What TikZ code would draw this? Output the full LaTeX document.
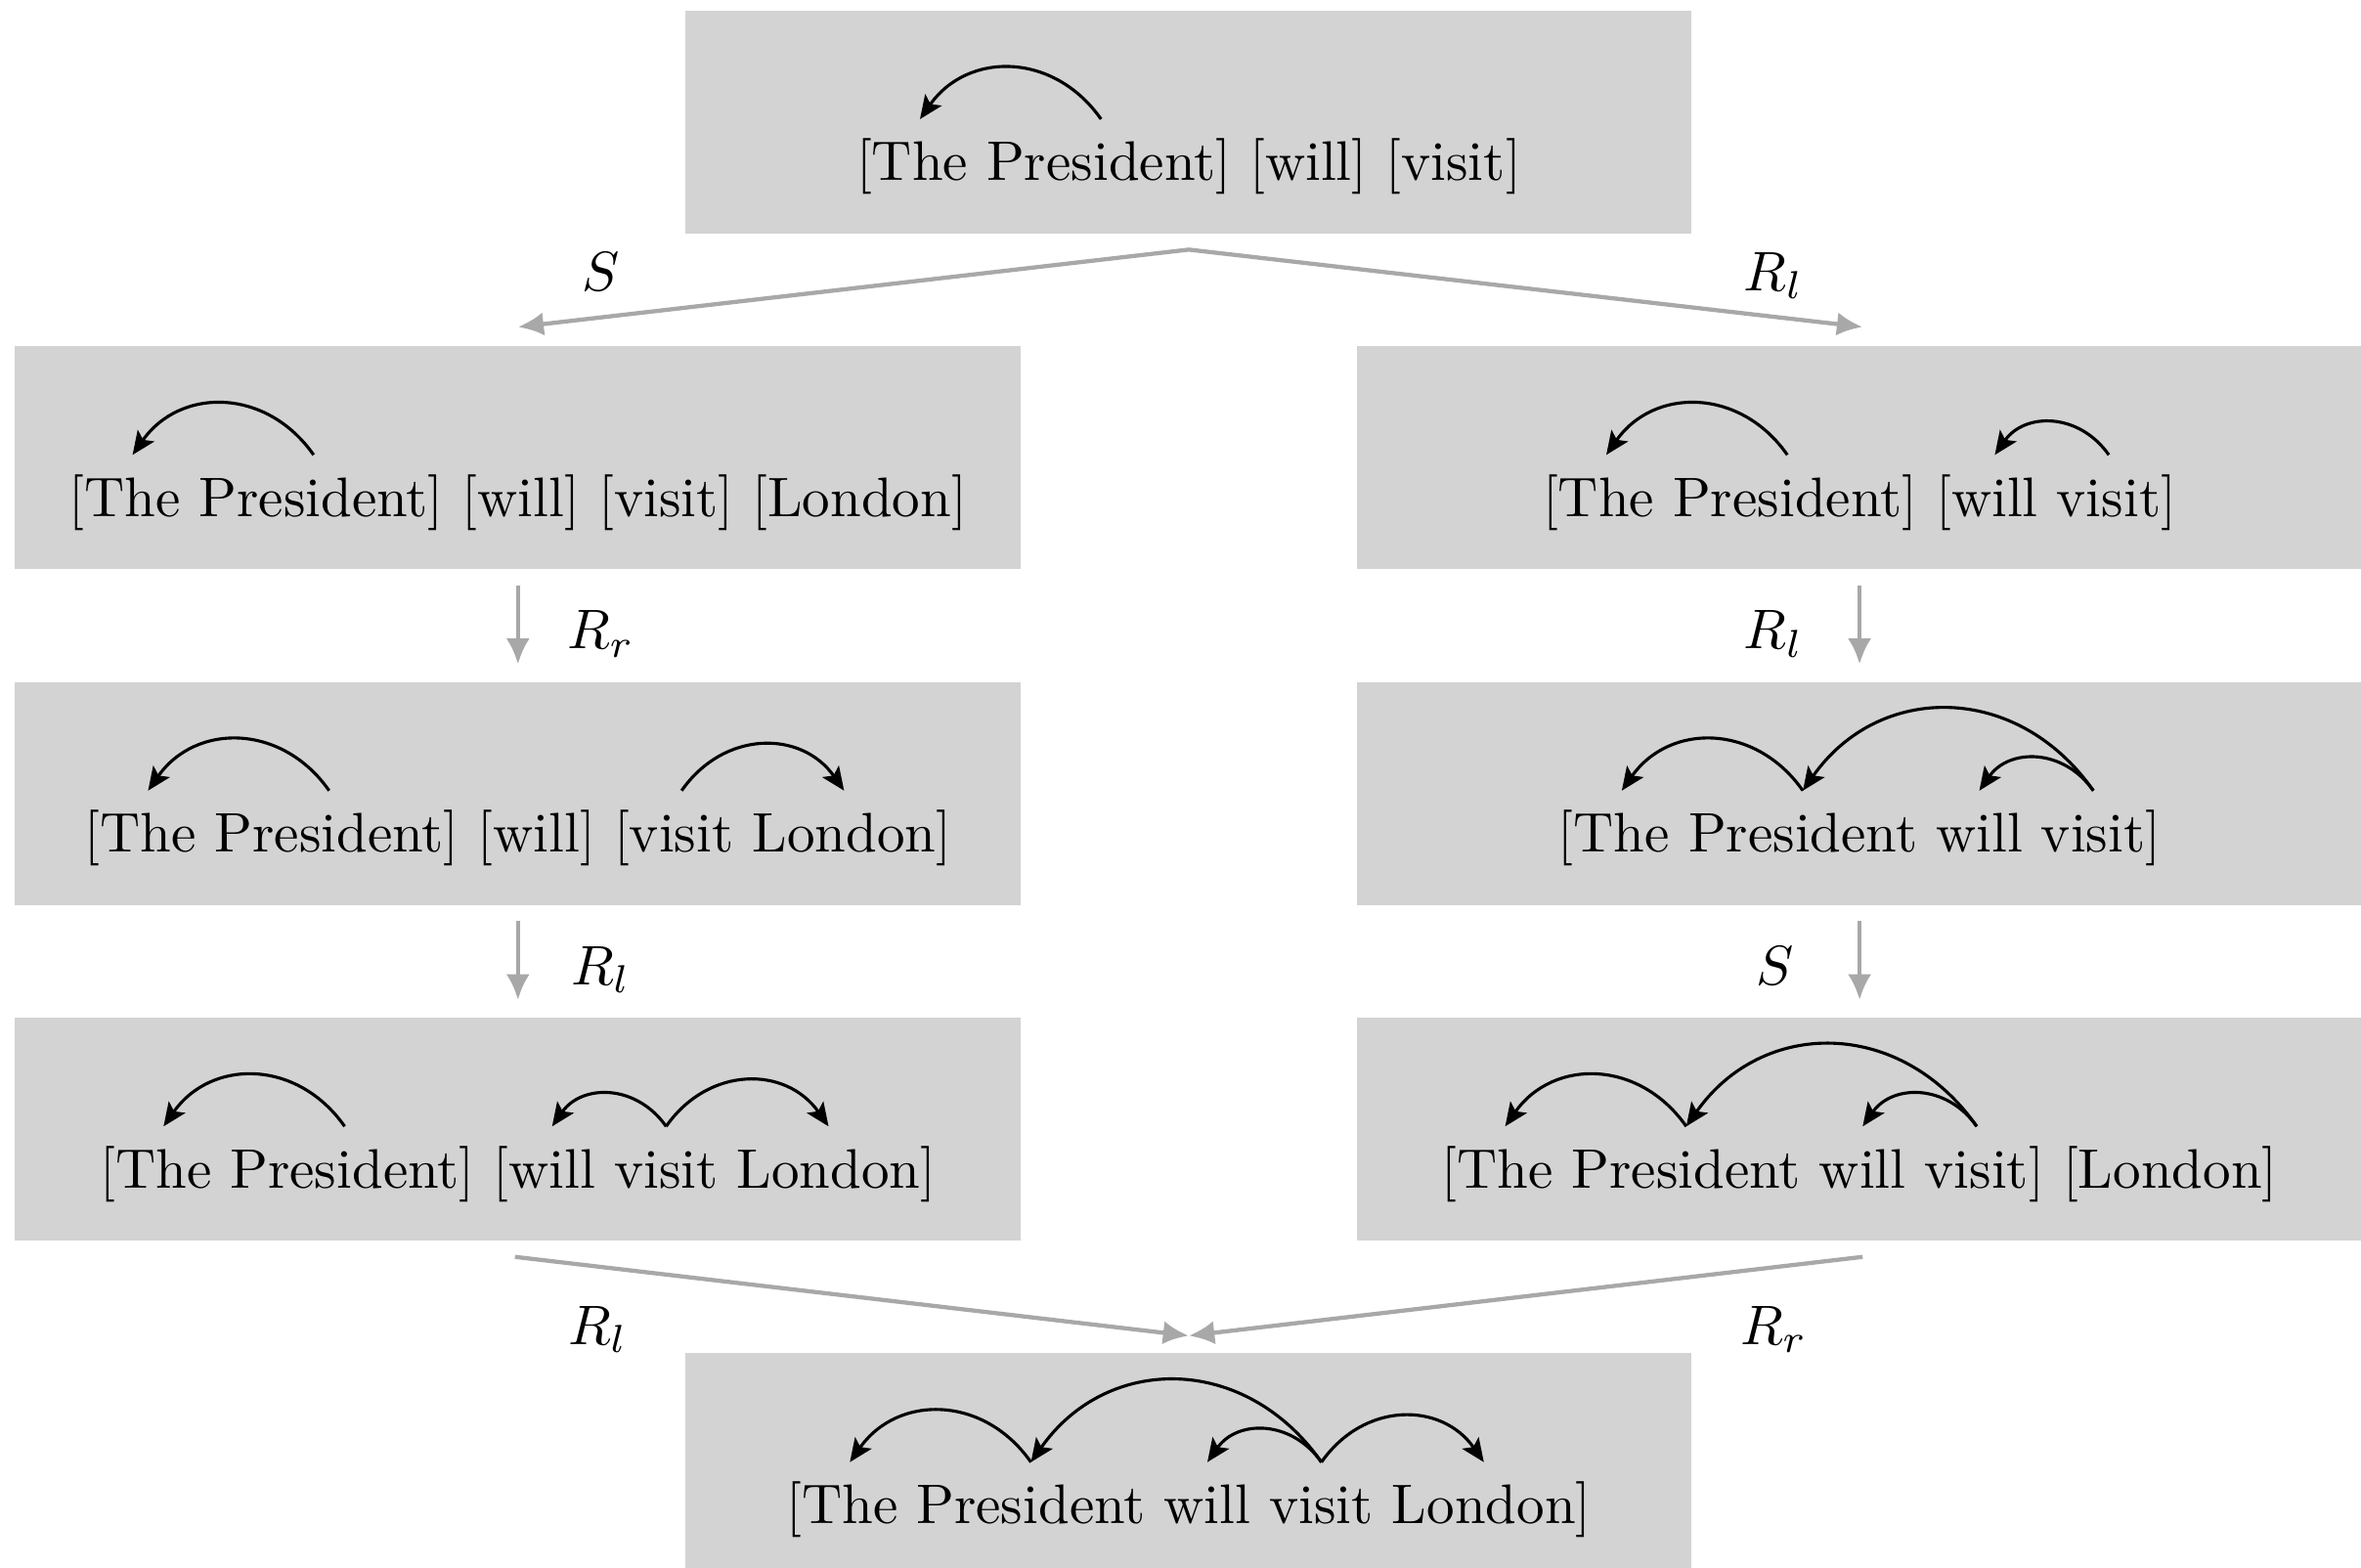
\documentclass[tikz,border=0pt]{standalone}
\usetikzlibrary{calc,arrows.meta}
\definecolor{boxgray}{RGB}{211,211,211}
\definecolor{flowgray}{RGB}{168,168,168}
\newlength\tmpw
\newlength\spw
\newlength\brw
\newlength\gapg
\newlength\wtop
\newlength\wlone
\newlength\wrone
\newlength\wltwo
\newlength\wrtwo
\newlength\wlthree
\newlength\wrthree
\newlength\wbot
% widths in the body font, taken before the picture starts
\newcommand\measure[2]{\settowidth{\tmpw}{#2}\global#1=\tmpw}
\AtBeginDocument{%
  \measure{\spw}{\ }%
  \measure{\brw}{[}%
  \global\gapg=\spw \global\advance\gapg by 2\brw
  \measure{\wtop}{[The President] [will] [visit]}%
  \measure{\wlone}{[The President] [will] [visit] [London]}%
  \measure{\wrone}{[The President] [will visit]}%
  \measure{\wltwo}{[The President] [will] [visit London]}%
  \measure{\wrtwo}{[The President will visit]}%
  \measure{\wlthree}{[The President] [will visit London]}%
  \measure{\wrthree}{[The President will visit] [London]}%
  \measure{\wbot}{[The President will visit London]}%
}
\begin{document}
\begin{tikzpicture}[x=0.2700pt,y=-0.2700pt,
  box/.style={fill=boxgray, minimum width=180.4pt, minimum height=40pt, inner sep=0pt},
  word/.style={inner sep=0pt, outer sep=0pt, anchor=base west},
  nxt/.style={word, at={(#1.base east)}, xshift=\spw},
  nxtg/.style={word, at={(#1.base east)}, xshift=\gapg},
  dep/.style={-{Stealth[length=4.2pt,width=3.6pt,inset=0.9pt]}, line width=0.55pt},
  hopl/.style={out=125, in=55, looseness=1.17},
  hopr/.style={out=55, in=125, looseness=1.17},
  flow/.style={draw=flowgray, line width=0.75pt, -{Latex[length=4.6pt,width=4.2pt]}},
  lab/.style={inner sep=0pt, anchor=base}]
\useasboundingbox (0,0) rectangle (1568,1041);

% ---------- boxes ----------
\node[box] (top) at (789.5,81) {};
\node[box] (l1) at (344,304) {};
\node[box] (r1) at (1235,304) {};
\node[box] (l2) at (344,527) {};
\node[box] (r2) at (1235,527) {};
\node[box] (l3) at (344,750) {};
\node[box] (r3) at (1235,750) {};
\node[box] (bot) at (789.5,973) {};

% ---------- top: [The President] [will] [visit] ----------
\node[word] (tA) at ($(top.center)+({-0.5*\wtop+\brw},-10.5pt)$) {\llap{[}The};
\node[nxt=tA] (tB) {President\rlap{]}};
\node[nxtg=tB] (tC) {\llap{[}will\rlap{]}};
\node[nxtg=tC] (tD) {\llap{[}visit\rlap{]}};
\draw[dep] ([yshift=11pt]tB.base) to[hopl] ([yshift=11pt]tA.base);

% ---------- l1: [The President] [will] [visit] [London] ----------
\node[word] (aA) at ($(l1.center)+({-0.5*\wlone+\brw},-10.5pt)$) {\llap{[}The};
\node[nxt=aA] (aB) {President\rlap{]}};
\node[nxtg=aB] (aC) {\llap{[}will\rlap{]}};
\node[nxtg=aC] (aD) {\llap{[}visit\rlap{]}};
\node[nxtg=aD] (aE) {\llap{[}London\rlap{]}};
\draw[dep] ([yshift=11pt]aB.base) to[hopl] ([yshift=11pt]aA.base);

% ---------- r1: [The President] [will visit] ----------
\node[word] (bA) at ($(r1.center)+({-0.5*\wrone+\brw},-10.5pt)$) {\llap{[}The};
\node[nxt=bA] (bB) {President\rlap{]}};
\node[nxtg=bB] (bC) {\llap{[}will};
\node[nxt=bC] (bD) {visit\rlap{]}};
\draw[dep] ([yshift=11pt]bB.base) to[hopl] ([yshift=11pt]bA.base);
\draw[dep] ([yshift=11pt]bD.base) to[hopl] ([yshift=11pt]bC.base);

% ---------- l2: [The President] [will] [visit London] ----------
\node[word] (cA) at ($(l2.center)+({-0.5*\wltwo+\brw},-10.5pt)$) {\llap{[}The};
\node[nxt=cA] (cB) {President\rlap{]}};
\node[nxtg=cB] (cC) {\llap{[}will\rlap{]}};
\node[nxtg=cC] (cD) {\llap{[}visit};
\node[nxt=cD] (cE) {London\rlap{]}};
\draw[dep] ([yshift=11pt]cB.base) to[hopl] ([yshift=11pt]cA.base);
\draw[dep] ([yshift=11pt]cD.base) to[hopr] ([yshift=11pt]cE.base);

% ---------- r2: [The President will visit] ----------
\node[word] (dA) at ($(r2.center)+({-0.5*\wrtwo+\brw},-10.5pt)$) {\llap{[}The};
\node[nxt=dA] (dB) {President};
\node[nxt=dB] (dC) {will};
\node[nxt=dC] (dD) {visit\rlap{]}};
\draw[dep] ([yshift=11pt]dB.base) to[hopl] ([yshift=11pt]dA.base);
\draw[dep] ([yshift=11pt]dD.base) to[hopl] ([yshift=11pt]dB.base);
\draw[dep] ([yshift=11pt]dD.base) to[hopl] ([yshift=11pt]dC.base);

% ---------- l3: [The President] [will visit London] ----------
\node[word] (eA) at ($(l3.center)+({-0.5*\wlthree+\brw},-10.5pt)$) {\llap{[}The};
\node[nxt=eA] (eB) {President\rlap{]}};
\node[nxtg=eB] (eC) {\llap{[}will};
\node[nxt=eC] (eD) {visit};
\node[nxt=eD] (eE) {London\rlap{]}};
\draw[dep] ([yshift=11pt]eB.base) to[hopl] ([yshift=11pt]eA.base);
\draw[dep] ([yshift=11pt]eD.base) to[hopl] ([yshift=11pt]eC.base);
\draw[dep] ([yshift=11pt]eD.base) to[hopr] ([yshift=11pt]eE.base);

% ---------- r3: [The President will visit] [London] ----------
\node[word] (fA) at ($(r3.center)+({-0.5*\wrthree+\brw},-10.5pt)$) {\llap{[}The};
\node[nxt=fA] (fB) {President};
\node[nxt=fB] (fC) {will};
\node[nxt=fC] (fD) {visit\rlap{]}};
\node[nxtg=fD] (fE) {\llap{[}London\rlap{]}};
\draw[dep] ([yshift=11pt]fB.base) to[hopl] ([yshift=11pt]fA.base);
\draw[dep] ([yshift=11pt]fD.base) to[hopl] ([yshift=11pt]fB.base);
\draw[dep] ([yshift=11pt]fD.base) to[hopl] ([yshift=11pt]fC.base);

% ---------- bottom: [The President will visit London] ----------
\node[word] (gA) at ($(bot.center)+({-0.5*\wbot+\brw},-10.5pt)$) {\llap{[}The};
\node[nxt=gA] (gB) {President};
\node[nxt=gB] (gC) {will};
\node[nxt=gC] (gD) {visit};
\node[nxt=gD] (gE) {London\rlap{]}};
\draw[dep] ([yshift=11pt]gB.base) to[hopl] ([yshift=11pt]gA.base);
\draw[dep] ([yshift=11pt]gD.base) to[hopl] ([yshift=11pt]gB.base);
\draw[dep] ([yshift=11pt]gD.base) to[hopl] ([yshift=11pt]gC.base);
\draw[dep] ([yshift=11pt]gD.base) to[hopr] ([yshift=11pt]gE.base);

% ---------- transitions ----------
\coordinate (split) at ($(top.south)+(0,10)$);
\coordinate (merge) at ($(bot.north)+(0,-11)$);
\draw[flow] (split) -- ($(l1.north)+(0,-12)$);
\draw[flow] (split) -- ($(r1.north)+(2,-12)$);
\draw[flow] ($(l1.south)+(0,10)$) -- ($(l2.north)+(0,-11)$);
\draw[flow] ($(r1.south)+(0,10)$) -- ($(r2.north)+(0,-11)$);
\draw[flow] ($(l2.south)+(0,10)$) -- ($(l3.north)+(0,-11)$);
\draw[flow] ($(r2.south)+(0,10)$) -- ($(r3.north)+(0,-11)$);
\draw[flow] ($(l3.south)+(-2,10)$) -- (merge);
\draw[flow] ($(r3.south)+(2,10)$) -- (merge);

% ---------- transition labels ----------
\node[lab] (s0) at (399,193) {$S$};
\node[lab] (s1) at (1178,193) {$R_l$};
\node[lab] (s2) at (399,431) {$R_r$};
\node[lab] (s3) at (1178,431) {$R_l$};
\node[lab] (s4) at (399,654) {$R_l$};
\node[lab] (s5) at (1179,654) {$S$};
\node[lab] (s6) at (397,893) {$R_l$};
\node[lab] (s7) at (1178,893) {$R_r$};
\end{tikzpicture}
\end{document}
